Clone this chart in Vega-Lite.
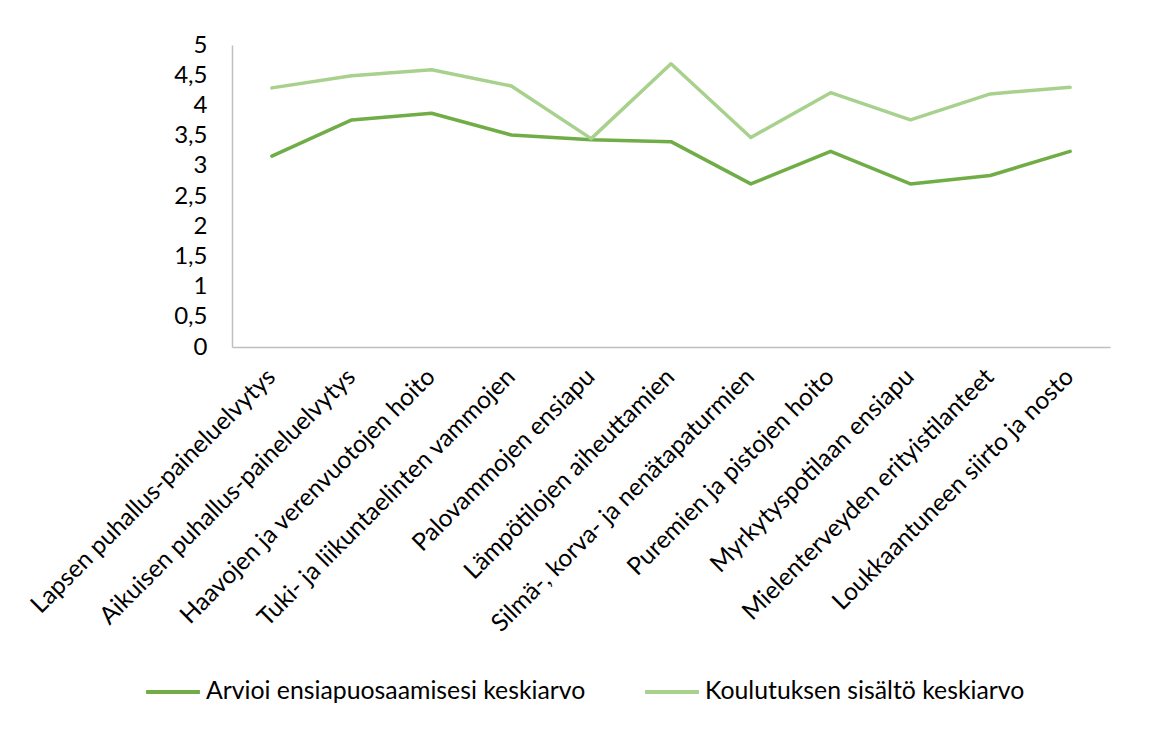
{
  "$schema": "https://vega.github.io/schema/vega-lite/v6.json",
  "width": 878,
  "height": 302,
  "autosize": {"type": "none"},
  "padding": {"left": 232, "top": 45, "right": 39, "bottom": 389},
  "background": "white",
  "data": {
    "values": [
      {"kategoria": "Lapsen puhallus-paineluelvytys", "sarja": "Arvioi ensiapuosaamisesi keskiarvo", "arvo": 3.16},
      {"kategoria": "Aikuisen puhallus-paineluelvytys", "sarja": "Arvioi ensiapuosaamisesi keskiarvo", "arvo": 3.76},
      {"kategoria": "Haavojen ja verenvuotojen hoito", "sarja": "Arvioi ensiapuosaamisesi keskiarvo", "arvo": 3.87},
      {"kategoria": "Tuki- ja liikuntaelinten vammojen", "sarja": "Arvioi ensiapuosaamisesi keskiarvo", "arvo": 3.51},
      {"kategoria": "Palovammojen ensiapu", "sarja": "Arvioi ensiapuosaamisesi keskiarvo", "arvo": 3.43},
      {"kategoria": "Lämpötilojen aiheuttamien", "sarja": "Arvioi ensiapuosaamisesi keskiarvo", "arvo": 3.40},
      {"kategoria": "Silmä-, korva- ja nenätapaturmien", "sarja": "Arvioi ensiapuosaamisesi keskiarvo", "arvo": 2.70},
      {"kategoria": "Puremien ja pistojen hoito", "sarja": "Arvioi ensiapuosaamisesi keskiarvo", "arvo": 3.24},
      {"kategoria": "Myrkytyspotilaan ensiapu", "sarja": "Arvioi ensiapuosaamisesi keskiarvo", "arvo": 2.70},
      {"kategoria": "Mielenterveyden erityistilanteet", "sarja": "Arvioi ensiapuosaamisesi keskiarvo", "arvo": 2.84},
      {"kategoria": "Loukkaantuneen siirto ja nosto", "sarja": "Arvioi ensiapuosaamisesi keskiarvo", "arvo": 3.24},
      {"kategoria": "Lapsen puhallus-paineluelvytys", "sarja": "Koulutuksen sisältö keskiarvo", "arvo": 4.29},
      {"kategoria": "Aikuisen puhallus-paineluelvytys", "sarja": "Koulutuksen sisältö keskiarvo", "arvo": 4.49},
      {"kategoria": "Haavojen ja verenvuotojen hoito", "sarja": "Koulutuksen sisältö keskiarvo", "arvo": 4.59},
      {"kategoria": "Tuki- ja liikuntaelinten vammojen", "sarja": "Koulutuksen sisältö keskiarvo", "arvo": 4.32},
      {"kategoria": "Palovammojen ensiapu", "sarja": "Koulutuksen sisältö keskiarvo", "arvo": 3.45},
      {"kategoria": "Lämpötilojen aiheuttamien", "sarja": "Koulutuksen sisältö keskiarvo", "arvo": 4.69},
      {"kategoria": "Silmä-, korva- ja nenätapaturmien", "sarja": "Koulutuksen sisältö keskiarvo", "arvo": 3.47},
      {"kategoria": "Puremien ja pistojen hoito", "sarja": "Koulutuksen sisältö keskiarvo", "arvo": 4.21},
      {"kategoria": "Myrkytyspotilaan ensiapu", "sarja": "Koulutuksen sisältö keskiarvo", "arvo": 3.76},
      {"kategoria": "Mielenterveyden erityistilanteet", "sarja": "Koulutuksen sisältö keskiarvo", "arvo": 4.19},
      {"kategoria": "Loukkaantuneen siirto ja nosto", "sarja": "Koulutuksen sisältö keskiarvo", "arvo": 4.30}
    ]
  },
  "mark": {"type": "line", "strokeWidth": 3.5, "strokeCap": "round", "strokeJoin": "round"},
  "encoding": {
    "x": {
      "field": "kategoria",
      "type": "nominal",
      "sort": null,
      "scale": {"type": "band", "paddingInner": 0, "paddingOuter": 0},
      "axis": {
        "title": null,
        "labelAngle": -45,
        "labelAlign": "right",
        "labelBaseline": "middle",
        "labelFontSize": 24.5,
        "labelFont": "Lato",
        "labelColor": "#000000",
        "labelPadding": 26,
        "labelLimit": 600,
        "labelOverlap": false,
        "ticks": false,
        "domainColor": "#BFBFBF",
        "domainWidth": 1.5,
        "grid": false
      }
    },
    "y": {
      "field": "arvo",
      "type": "quantitative",
      "scale": {"domain": [0, 5], "nice": false},
      "axis": {
        "title": null,
        "values": [0, 0.5, 1, 1.5, 2, 2.5, 3, 3.5, 4, 4.5, 5],
        "labelExpr": "replace(toString(datum.value), '.', ',')",
        "labelFontSize": 24,
        "labelFont": "Lato",
        "labelColor": "#000000",
        "labelPadding": 25,
        "labelOverlap": false,
        "ticks": false,
        "domainColor": "#BFBFBF",
        "domainWidth": 1.5,
        "grid": false
      }
    },
    "color": {
      "field": "sarja",
      "type": "nominal",
      "scale": {
        "domain": ["Arvioi ensiapuosaamisesi keskiarvo", "Koulutuksen sisältö keskiarvo"],
        "range": ["#70AD47", "#A9D18E"]
      },
      "legend": {
        "title": null,
        "orient": "none",
        "legendX": -88,
        "legendY": 618,
        "direction": "horizontal",
        "symbolType": "stroke",
        "symbolSize": 2900,
        "symbolStrokeWidth": 4,
        "labelFontSize": 24.8,
        "labelFont": "Lato",
        "labelColor": "#000000",
        "labelOffset": 4,
        "columnPadding": 51,
        "labelLimit": 600
      }
    }
  },
  "config": {
    "view": {"stroke": null}
  }
}
